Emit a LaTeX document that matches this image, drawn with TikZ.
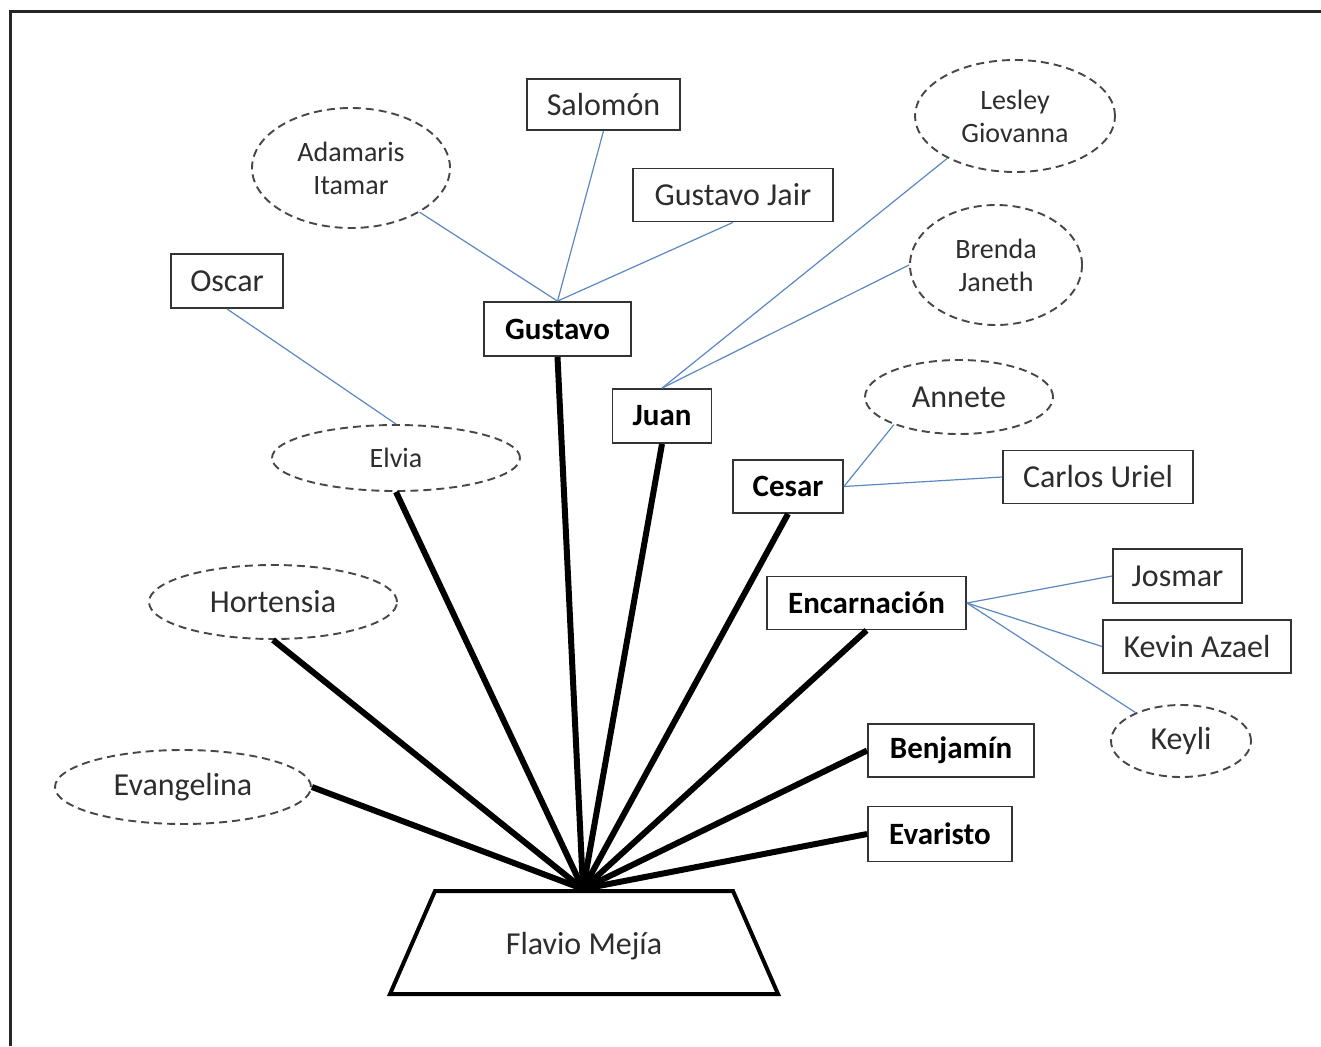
\documentclass[tikz,border=0pt]{standalone}
\usepackage{fontspec}
\setmainfont{Carlito}
\usetikzlibrary{shapes.geometric}
\definecolor{linkblue}{RGB}{91,135,195}
\definecolor{inkgray}{RGB}{45,45,45}
\begin{document}
\begin{tikzpicture}[x=1pt,y=-1pt,
  box/.style={draw=black!80, line width=1.8pt, rectangle, inner sep=0pt,
    minimum height=53pt, font=\fontsize{32}{38}\selectfont, text=inkgray},
  kid/.style={box, font=\fontsize{31}{38}\selectfont\bfseries, text=black},
  oval/.style={draw=black!72, dash pattern=on 8pt off 5pt, line width=1.9pt,
    ellipse, inner sep=0pt, font=\fontsize{32}{38}\selectfont, text=inkgray},
  ovalsmall/.style={oval, font=\fontsize{28}{33}\selectfont, align=center},
  trunk/.style={line width=6pt, draw=black},
  twig/.style={line width=1.2pt, draw=linkblue}]
\useasboundingbox (0,0) rectangle (1321,1046);
% frame
\draw[line width=2.5pt, black!85] (10.5,1046) -- (10.5,11.5) -- (1321,11.5);

% root
\draw[line width=4pt, line join=miter] (435,891) -- (733,891) -- (778,994) -- (390,994) -- cycle;
\node[font=\fontsize{32}{38}\selectfont, text=inkgray] (flavio) at (584,946) {Flavio Mejía};
\coordinate (hub) at (583,889);

% first level
\node[kid, minimum width=147pt, minimum height=54pt] (gustavo) at (557.5,329) {Gustavo};
\node[kid, minimum width=99pt, minimum height=54pt] (juan) at (662,416) {Juan};
\node[kid, minimum width=110pt] (cesar) at (788,486.5) {Cesar};
\node[kid, minimum width=199pt] (encarn) at (866.5,603) {Encarnación};
\node[kid, minimum width=166pt] (benjamin) at (951,750.5) {Benjamín};
\node[kid, minimum width=144pt, minimum height=55pt] (evaristo) at (940,834) {Evaristo};
\node[ovalsmall, minimum width=248pt, minimum height=66pt] (elvia) at (396,458) {Elvia};
\node[oval, minimum width=248pt, minimum height=74pt] (hortensia) at (273,602) {Hortensia};
\node[oval, minimum width=256pt, minimum height=74pt] (evangelina) at (183,787) {Evangelina};

% second level
\node[box, minimum width=153pt, minimum height=51pt] (salomon) at (603.5,104.5) {Salomón};
\node[box, minimum width=200pt] (gjair) at (733,195) {Gustavo Jair};
\node[ovalsmall, minimum width=198pt, minimum height=120pt] (adamaris) at (351,168) {Adamaris\\Itamar};
\node[box, minimum width=112pt, minimum height=54pt] (oscar) at (227,281) {Oscar};
\node[ovalsmall, minimum width=200pt, minimum height=112pt] (lesley) at (1015,116) {Lesley\\Giovanna};
\node[ovalsmall, minimum width=172pt, minimum height=120pt] (brenda) at (996,265) {Brenda\\Janeth};
\node[oval, minimum width=188pt, minimum height=74pt] (annete) at (959,397) {Annete};
\node[box, minimum width=190pt] (carlos) at (1098,477) {Carlos Uriel};
\node[box, minimum width=129pt, minimum height=54pt] (josmar) at (1177.5,576) {Josmar};
\node[box, minimum width=188pt] (kevin) at (1197,646.5) {Kevin Azael};
\node[oval, minimum width=140pt, minimum height=72pt] (keyli) at (1181,741) {Keyli};

% trunk connectors
\draw[trunk] (evangelina.east) -- (hub);
\draw[trunk] (hortensia.south) -- (hub);
\draw[trunk] (elvia.south) -- (hub);
\draw[trunk] (gustavo.south) -- (hub);
\draw[trunk] (juan.south) -- (hub);
\draw[trunk] (cesar.south) -- (hub);
\draw[trunk] (encarn.south) -- (hub);
\draw[trunk] (benjamin.west) -- (hub);
\draw[trunk] (evaristo.west) -- (hub);

% twig connectors
\draw[twig] (adamaris) -- (gustavo.north);
\draw[twig] (salomon.south) -- (gustavo.north);
\draw[twig] (gjair.south) -- (gustavo.north);
\draw[twig] (oscar.south) -- (elvia.north);
\draw[twig] (juan.north) -- (lesley.212);
\draw[twig] (juan.north) -- (brenda.west);
\draw[twig] (cesar.east) -- (annete.203);
\draw[twig] (cesar.east) -- (carlos.west);
\draw[twig] (encarn.east) -- (josmar.west);
\draw[twig] (encarn.east) -- (kevin.west);
\draw[twig] (encarn.east) -- (keyli.148);
\end{tikzpicture}
\end{document}
